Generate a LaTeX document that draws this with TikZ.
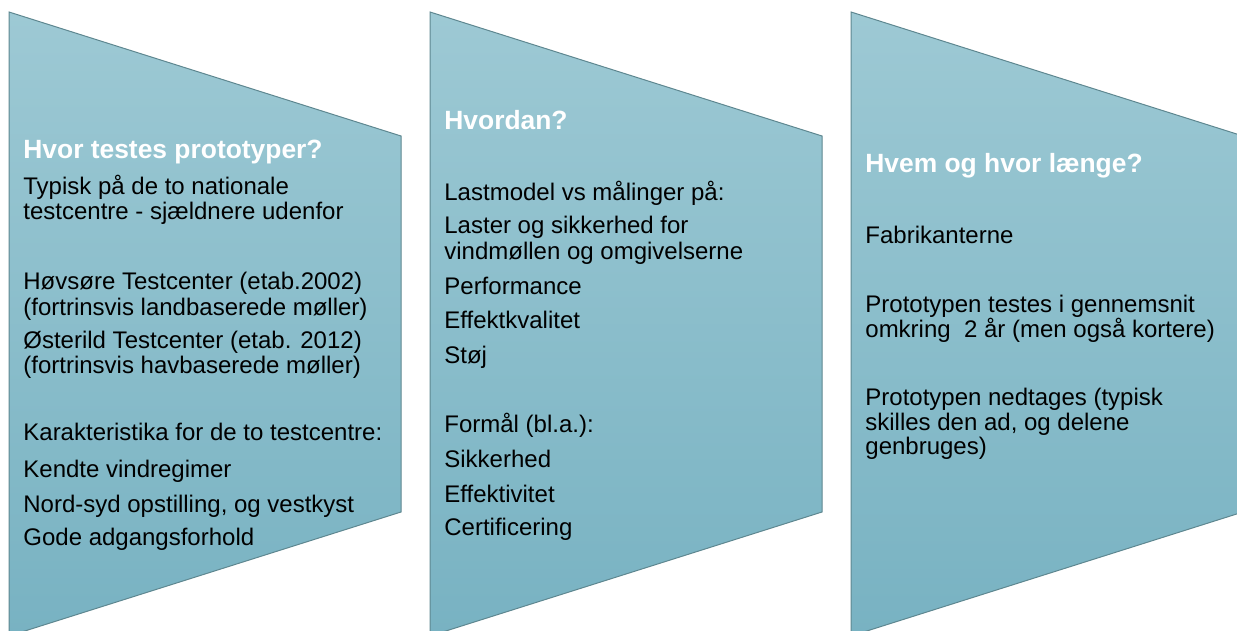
\documentclass[tikz,border=0pt]{standalone}
\usepackage{fontspec}
\setmainfont{Liberation Sans}
\definecolor{paneltop}{HTML}{9DC9D4}
\definecolor{panelbottom}{HTML}{78B2C2}
\definecolor{panelline}{HTML}{5E8790}

\begin{document}
\begin{tikzpicture}[x=0.5pt,y=-0.5pt,
    % 面板样式定义
    panel style/.style={
        top color=paneltop,       % 上部颜色
        bottom color=panelbottom, % 下部颜色
        draw=panelline,           % 边框颜色
        line width=0.5pt          % 细线
    },
    % 标题样式
    title style/.style={
        anchor=base west,
        inner sep=0pt,
        text=white,
        font=\fontsize{13.2}{15}\selectfont\bfseries
    },
    % 正文样式
    body style/.style={
        anchor=base west,
        inner sep=0pt,
        text=black,
        font=\fontsize{12}{13}\selectfont
    }
]
\useasboundingbox (0,0) rectangle (1237,631);
\clip (0,0) rectangle (1237,631);

% 三个面板
\foreach \x in {9,430,851}
    \path[panel style] (\x,12) -- (\x+392,136) -- (\x+392,512) -- (\x,636) -- cycle;

% 第一个面板
\node[title style] (title1) at (23,158) {Hvor testes prototyper?};
\foreach \y/\t [count=\i] in {
    194/{Typisk på de to nationale},
    220/{testcentre - sjældnere udenfor},
    289/{Høvsøre Testcenter (etab.2002)},
    315/{(fortrinsvis landbaserede møller)},
    348/{Østerild Testcenter (etab. 2012)},
    373/{(fortrinsvis havbaserede møller)},
    440/{Karakteristika for de to testcentre:},
    477/{Kendte vindregimer},
    512/{Nord-syd opstilling, og vestkyst},
    545/{Gode adgangsforhold}}
    \node[body style] (line1\i) at (23,\y) {\t};

% 第二个面板
\node[title style] (title2) at (444,130) {Hvordan?};
\foreach \y/\t [count=\i] in {
    200/{Lastmodel vs målinger på:},
    233/{Laster og sikkerhed for},
    259/{vindmøllen og omgivelserne},
    294/{Performance},
    328/{Effektkvalitet},
    363/{Støj},
    432/{Formål (bl.a.):},
    467/{Sikkerhed},
    502/{Effektivitet},
    535/{Certificering}}
    \node[body style] (line2\i) at (444,\y) {\t};

% 第三个面板
\node[title style] (title3) at (865,172) {Hvem og hvor længe?};
\foreach \y/\t [count=\i] in {
    243/{Fabrikanterne},
    312/{Prototypen testes i gennemsnit},
    337/{omkring\ \ 2 år (men også kortere)},
    405/{Prototypen nedtages (typisk},
    430/{skilles den ad, og delene},
    454/{genbruges)}}
    \node[body style] (line3\i) at (865,\y) {\t};

\end{tikzpicture}
\end{document}
